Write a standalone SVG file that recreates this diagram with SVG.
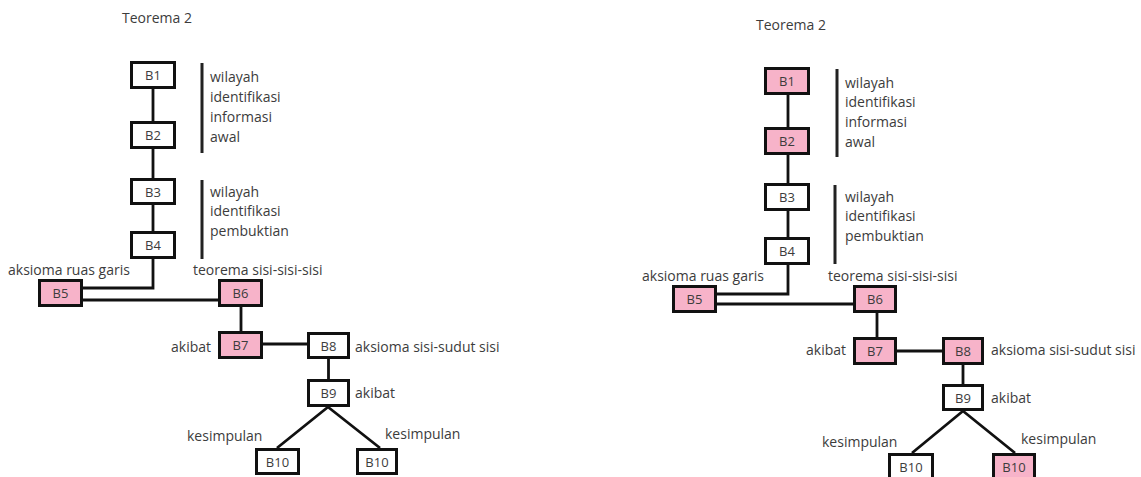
<svg xmlns="http://www.w3.org/2000/svg" width="1141" height="477" viewBox="0 0 1141 477">
<style>
text{font-family:"Open Sans","Liberation Sans",sans-serif;font-size:14px;fill:#3c3c3c}
.c{text-anchor:middle;font-size:13px}
.bx{fill:#ffffff;stroke:#111;stroke-width:3}
.pk{fill:#f7b3c9;stroke:#111;stroke-width:3}
.ln{fill:none;stroke:#111;stroke-width:2.8}
.br{fill:none;stroke:#222;stroke-width:3}
</style>
<rect width="1141" height="477" fill="#ffffff"/>
<g id="connectors">
<path class="ln" d="M153,89V121M153,149V178M153,205V231M153,259V288H83M83,300H218M241,307V331M263,344H307M328.5,359V379M328,407L277,448M328,407L380,448"/>
<path class="ln" d="M788,94V127M788,155V183M788,211V237M788,265V294H717M717,304H853M877,313V337M897,351H942M963,365V384M963,411L912,453M963,411L1015,453"/>
</g>
<g id="brackets">
<path class="br" d="M202,63V153M202,180V259M837,69V157M835,185V264"/>
</g>
<g id="left-labels">
<text x="122" y="23">Teorema 2</text>
<text x="210" y="82">wilayah</text>
<text x="210" y="102">identifikasi</text>
<text x="210" y="122">informasi</text>
<text x="210" y="142">awal</text>
<text x="210" y="197">wilayah</text>
<text x="210" y="216">identifikasi</text>
<text x="210" y="236">pembuktian</text>
<text x="8" y="275">aksioma ruas garis</text>
<text x="193" y="275">teorema sisi-sisi-sisi</text>
<text x="171" y="352">akibat</text>
<text x="355" y="352">aksioma sisi-sudut sisi</text>
<text x="355" y="398">akibat</text>
<text x="187" y="441">kesimpulan</text>
<text x="385" y="439">kesimpulan</text>
</g>
<g id="L-B1"><rect class="bx" x="131.5" y="62.5" width="43" height="25"/><text class="c" x="153" y="79.5">B1</text></g>
<g id="L-B2"><rect class="bx" x="131.5" y="122.5" width="43" height="25"/><text class="c" x="153" y="139.5">B2</text></g>
<g id="L-B3"><rect class="bx" x="131.5" y="179.5" width="43" height="24"/><text class="c" x="153" y="196.5">B3</text></g>
<g id="L-B4"><rect class="bx" x="131.5" y="232.5" width="43" height="25"/><text class="c" x="153" y="249.5">B4</text></g>
<g id="L-B5"><rect class="pk" x="39.5" y="280.5" width="42" height="25"/><text class="c" x="60.5" y="297.5">B5</text></g>
<g id="L-B6"><rect class="pk" x="219.5" y="280.5" width="42" height="25"/><text class="c" x="240.5" y="297.5">B6</text></g>
<g id="L-B7"><rect class="pk" x="219.5" y="332.5" width="42" height="25"/><text class="c" x="240.5" y="349.5">B7</text></g>
<g id="L-B8"><rect class="bx" x="308.5" y="333.5" width="40" height="24"/><text class="c" x="328.5" y="350.5">B8</text></g>
<g id="L-B9"><rect class="bx" x="308.5" y="380.5" width="40" height="25"/><text class="c" x="328.5" y="397.5">B9</text></g>
<g id="L-B10a"><rect class="bx" x="256.5" y="449.5" width="42" height="24"/><text class="c" x="277.5" y="466.5">B10</text></g>
<g id="L-B10b"><rect class="bx" x="357.5" y="449.5" width="39" height="24"/><text class="c" x="377" y="466.5">B10</text></g>
<g id="right-labels">
<text x="756" y="30">Teorema 2</text>
<text x="845" y="88">wilayah</text>
<text x="845" y="107">identifikasi</text>
<text x="845" y="127">informasi</text>
<text x="845" y="147">awal</text>
<text x="845" y="202">wilayah</text>
<text x="845" y="221">identifikasi</text>
<text x="845" y="241">pembuktian</text>
<text x="642" y="281">aksioma ruas garis</text>
<text x="828" y="281">teorema sisi-sisi-sisi</text>
<text x="806" y="355">akibat</text>
<text x="991" y="355">aksioma sisi-sudut sisi</text>
<text x="991" y="403">akibat</text>
<text x="822" y="447">kesimpulan</text>
<text x="1021" y="444">kesimpulan</text>
</g>
<g id="R-B1"><rect class="pk" x="765.5" y="68.5" width="43" height="25"/><text class="c" x="787" y="85.5">B1</text></g>
<g id="R-B2"><rect class="pk" x="765.5" y="128.5" width="43" height="25"/><text class="c" x="787" y="145.5">B2</text></g>
<g id="R-B3"><rect class="bx" x="765.5" y="184.5" width="43" height="25"/><text class="c" x="787" y="201.5">B3</text></g>
<g id="R-B4"><rect class="bx" x="765.5" y="238.5" width="43" height="25"/><text class="c" x="787" y="255.5">B4</text></g>
<g id="R-B5"><rect class="pk" x="673.5" y="286.5" width="42" height="25"/><text class="c" x="694.5" y="303.5">B5</text></g>
<g id="R-B6"><rect class="pk" x="854.5" y="286.5" width="41" height="25"/><text class="c" x="875" y="303.5">B6</text></g>
<g id="R-B7"><rect class="pk" x="854.5" y="338.5" width="41" height="25"/><text class="c" x="875" y="355.5">B7</text></g>
<g id="R-B8"><rect class="pk" x="943.5" y="338.5" width="39" height="25"/><text class="c" x="963" y="355.5">B8</text></g>
<g id="R-B9"><rect class="bx" x="943.5" y="385.5" width="39" height="24"/><text class="c" x="963" y="402.5">B9</text></g>
<g id="R-B10a"><rect class="bx" x="889.5" y="454.5" width="43" height="25"/><text class="c" x="911" y="471.5">B10</text></g>
<g id="R-B10b"><rect class="pk" x="993.5" y="454.5" width="41" height="25"/><text class="c" x="1014" y="471.5">B10</text></g>
</svg>
